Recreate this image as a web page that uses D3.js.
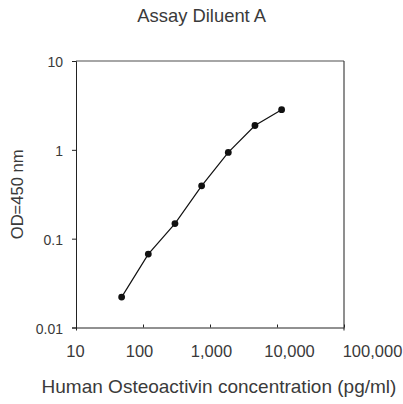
<!DOCTYPE html>
<html><head><meta charset="utf-8">
<script src="https://cdn.jsdelivr.net/npm/d3@7"></script>
<style>body{margin:0;background:#fff;} svg{display:block;font-family:"Liberation Sans",Arial,sans-serif;}</style>
</head><body>
<script>
const concentrations = [48, 120, 300, 750, 1875, 4688, 11719];
const odValues = [0.022, 0.067, 0.148, 0.393, 0.935, 1.88, 2.83];
const xTicks = [10, 100, 1000, 10000, 100000];
const yTicks = [0.01, 0.1, 1, 10];
const title = "Assay Diluent A";
const xTitle = "Human Osteoactivin concentration (pg/ml)";
const yTitle = "OD=450 nm";

const W = 403, H = 404;
const L = 76, R = 344, T = 61, B = 327.5;
const svg = d3.select("body").append("svg").attr("width", W).attr("height", H);
const x = d3.scaleLog().domain([10, 100000]).range([L, R]);
const y = d3.scaleLog().domain([0.01, 10]).range([B, T]);
const textCol = "#3a3a3a";

// frame: top and right
svg.append("line").attr("x1", L).attr("x2", R).attr("y1", T).attr("y2", T).attr("stroke", "#888").attr("stroke-width", 1.3);
svg.append("line").attr("x1", R).attr("x2", R).attr("y1", T).attr("y2", B + 3).attr("stroke", "#333").attr("stroke-width", 1.1);

// y axis
const yAx = svg.append("g").attr("transform", `translate(${L},0)`)
  .call(d3.axisLeft(y).tickValues(yTicks).tickFormat(d => d3.format("~g")(d)).tickSize(4).tickPadding(9));
yAx.select(".domain").attr("stroke", "#222");
yAx.selectAll(".tick line").attr("stroke", "#222");
yAx.selectAll("text").attr("fill", textCol).style("font-size", "14px").attr("dy", "0.4em");

// x axis (label shifts mimic the reference's uneven label placement)
const xLabelShift = [-1, -4, 1, 12, 28];
const xAx = svg.append("g").attr("transform", `translate(0,${B})`)
  .call(d3.axisBottom(x).tickValues(xTicks).tickFormat(d3.format(",")).tickSize(0).tickPadding(18));
xAx.select(".domain").attr("stroke", "#222");
xAx.selectAll(".tick line").attr("y1", d => d === 10 ? 3 : -3).attr("y2", 0).attr("stroke", "#222");
xAx.selectAll("text").attr("fill", textCol).style("font-size", "16.5px")
  .attr("dx", (d, i) => xLabelShift[i]);

// line + points
const pts = concentrations.map((c, i) => [c, odValues[i]]);
svg.append("path").datum(pts)
  .attr("d", d3.line().x(d => x(d[0])).y(d => y(d[1])))
  .attr("fill", "none").attr("stroke", "#111").attr("stroke-width", 1.2);
svg.selectAll("circle.pt").data(pts).enter().append("circle")
  .attr("cx", d => x(d[0])).attr("cy", d => y(d[1])).attr("r", 3.4).attr("fill", "#111");

// titles
svg.append("text").attr("x", 201.7).attr("y", 22).attr("text-anchor", "middle")
  .attr("fill", textCol).style("font-size", "18.4px").text(title);
svg.append("text").attr("x", 219).attr("y", 392.7).attr("text-anchor", "middle")
  .attr("fill", textCol).style("font-size", "19px").text(xTitle);
svg.append("text").attr("transform", `translate(22.5,194.3) rotate(-90)`).attr("text-anchor", "middle")
  .attr("fill", textCol).style("font-size", "16.6px").text(yTitle);
</script>
</body></html>
